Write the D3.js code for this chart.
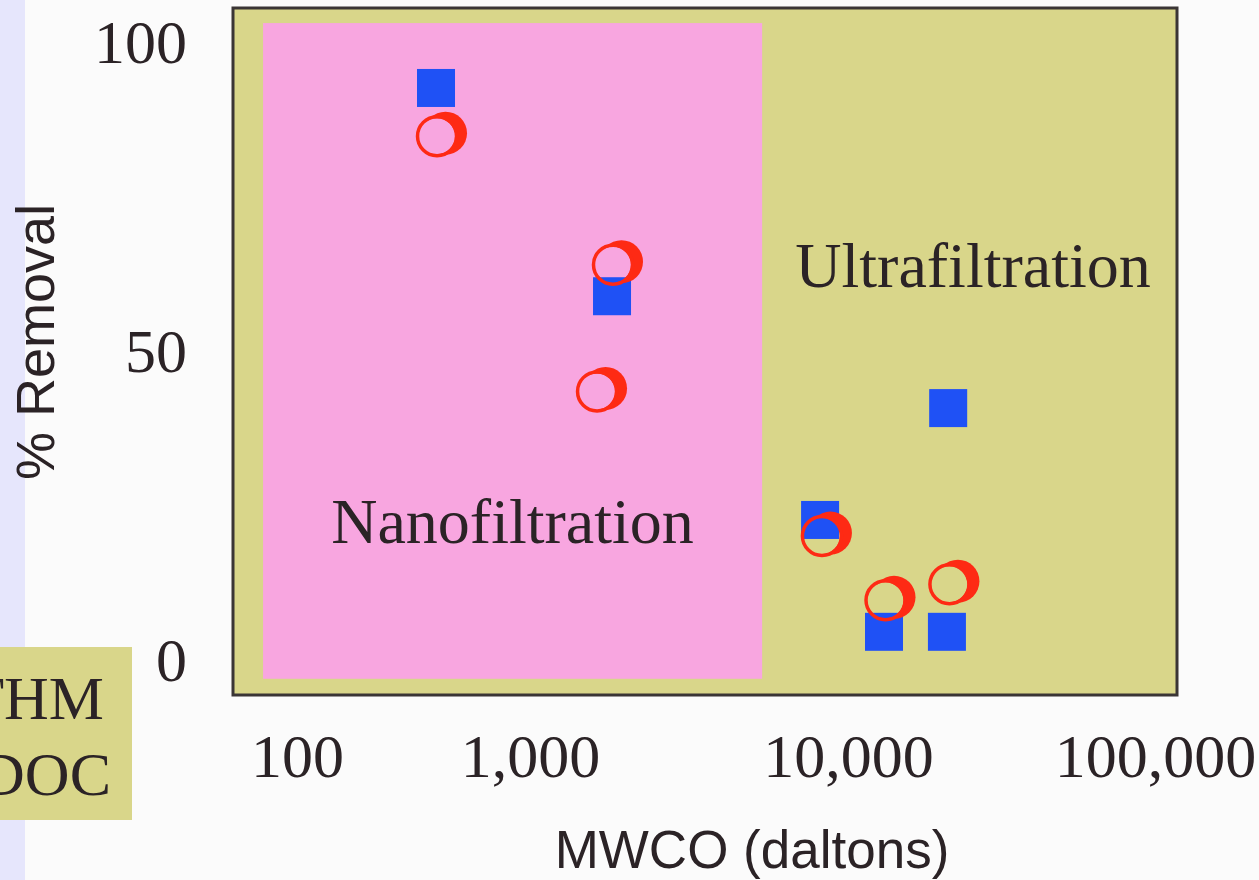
<!DOCTYPE html>
<html>
<head>
<meta charset="utf-8">
<script src="https://cdn.jsdelivr.net/npm/d3@7/dist/d3.min.js"></script>
<style>
  html, body { margin: 0; padding: 0; background: #fbfbfb; }
  svg { display: block; }
</style>
</head>
<body>
<svg id="chart" width="1259" height="880"></svg>
<script>
// ---- data ----
const xTicks = [100, 1000, 10000, 100000];
const xTickLabels = ["100", "1,000", "10,000", "100,000"];
const yTicks = [0, 50, 100];
const yTickLabels = ["0", "50", "100"];

const thmMwco = [395, 1811, 21200, 8170, 13100, 21000];
const thmRemoval = [92.4, 58.7, 40.6, 22.5, 4.4, 4.4];

const docMwco = [399, 1824, 1625, 8280, 13250, 21400];
const docRemoval = [84.6, 63.8, 43.3, 19.9, 9.5, 12.1];

const nanoMwcoRange = [71.5, 5370];
const nanoRemovalRange = [-3.2, 102.9];

const legendLabels = ["THM", "DOC"];

// ---- layout ----
const svg = d3.select("#chart");
const serif = "'Liberation Serif', 'Times New Roman', serif";
const sans = "'Liberation Sans', Arial, sans-serif";
const textColor = "#2b2326";

const x = d3.scaleLog().domain(xTicks).range([297, 530, 848, 1155]);
const y = d3.scaleLinear().domain([0, 100]).range([659, 41]);

// left lavender strip
svg.append("rect").attr("x", 0).attr("y", 0).attr("width", 25).attr("height", 880).attr("fill", "#e6e6fc");

// plot frame (olive)
svg.append("rect").attr("x", 233).attr("y", 8).attr("width", 944).attr("height", 687)
  .attr("fill", "#d9d68a").attr("stroke", "#3a3535").attr("stroke-width", 3);

// nanofiltration region (pink)
svg.append("rect")
  .attr("x", x(nanoMwcoRange[0]))
  .attr("y", y(nanoRemovalRange[1]))
  .attr("width", x(nanoMwcoRange[1]) - x(nanoMwcoRange[0]))
  .attr("height", y(nanoRemovalRange[0]) - y(nanoRemovalRange[1]))
  .attr("fill", "#f8a6e0");

// region labels
svg.append("text").attr("x", 512.5).attr("y", 543).attr("text-anchor", "middle")
  .attr("font-family", serif).attr("font-size", 64).attr("fill", textColor).text("Nanofiltration");
svg.append("text").attr("x", 973).attr("y", 287).attr("text-anchor", "middle")
  .attr("font-family", serif).attr("font-size", 64).attr("fill", textColor).text("Ultrafiltration");

// y axis tick labels
const yAxis = d3.axisLeft(y).tickValues(yTicks).tickFormat((d, i) => yTickLabels[i]).tickSize(0).tickPadding(0);
const gy = svg.append("g").attr("transform", "translate(187,0)").call(yAxis);
gy.select(".domain").remove();
gy.selectAll("text").attr("font-family", serif).attr("font-size", 62).attr("fill", textColor)
  .attr("dy", "0.34em").attr("x", 0);

// x axis tick labels
const xAxis = d3.axisBottom(x).tickValues(xTicks).tickFormat((d, i) => xTickLabels[i]).tickSize(0).tickPadding(0);
const gx = svg.append("g").attr("transform", "translate(0,777)").call(xAxis);
gx.select(".domain").remove();
gx.selectAll("text").attr("font-family", serif).attr("font-size", 62).attr("fill", textColor)
  .attr("dy", 0).attr("y", 0);

// axis titles
svg.append("text").attr("x", 752).attr("y", 868).attr("text-anchor", "middle")
  .attr("font-family", sans).attr("font-size", 53).attr("fill", textColor).text("MWCO (daltons)");
svg.append("text").attr("transform", "translate(54,342) rotate(-90)").attr("text-anchor", "middle")
  .attr("font-family", sans).attr("font-size", 54).attr("fill", textColor).text("% Removal");

// THM squares
const sq = 38;
svg.append("g").selectAll("rect").data(thmMwco.map((m, i) => [m, thmRemoval[i]])).join("rect")
  .attr("x", d => x(d[0]) - sq / 2).attr("y", d => y(d[1]) - sq / 2)
  .attr("width", sq).attr("height", sq).attr("fill", "#1f51f5");

// DOC circles with crescent shading
const defs = svg.append("defs");
const docData = docMwco.map((m, i) => [m, docRemoval[i]]);
docData.forEach((d, i) => {
  const cx = x(d[0]), cy = y(d[1]);
  const mask = defs.append("mask").attr("id", "cres" + i).attr("maskUnits", "userSpaceOnUse")
    .attr("x", cx - 40).attr("y", cy - 40).attr("width", 80).attr("height", 80);
  mask.append("rect").attr("x", cx - 40).attr("y", cy - 40).attr("width", 80).attr("height", 80).attr("fill", "white");
  mask.append("circle").attr("cx", cx).attr("cy", cy).attr("r", 18).attr("fill", "black");
});
const gd = svg.append("g");
gd.selectAll("circle.cres").data(docData).join("circle").attr("class", "cres")
  .attr("cx", d => x(d[0]) + 8.5).attr("cy", d => y(d[1]) - 3).attr("r", 21.5)
  .attr("fill", "#fe2a14").attr("mask", (d, i) => "url(#cres" + i + ")");
gd.selectAll("circle.ring").data(docData).join("circle").attr("class", "ring")
  .attr("cx", d => x(d[0])).attr("cy", d => y(d[1])).attr("r", 19.5)
  .attr("fill", "none").attr("stroke", "#fe2a14").attr("stroke-width", 3.5);

// legend box (cut off at left edge, as in the reference)
svg.append("rect").attr("x", 0).attr("y", 647).attr("width", 132).attr("height", 173).attr("fill", "#d9d68a");
svg.append("g").selectAll("text").data(legendLabels).join("text")
  .attr("x", (d, i) => i === 0 ? 104 : 111).attr("y", (d, i) => 719 + i * 76)
  .attr("text-anchor", "end").attr("font-family", serif).attr("font-size", 62).attr("fill", textColor)
  .text(d => d);
</script>
</body>
</html>
